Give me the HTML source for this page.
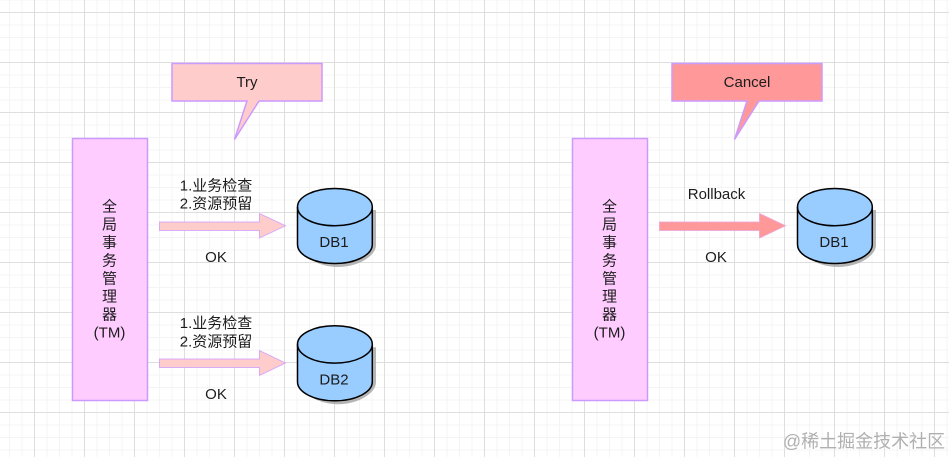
<!DOCTYPE html>
<html><head><meta charset="utf-8"><style>
html,body{margin:0;padding:0;background:#fff;width:949px;height:457px;overflow:hidden}
svg{display:block}
text{font-family:"Liberation Sans","Noto Sans CJK SC",sans-serif;font-size:15px;fill:#1c1c1c;text-anchor:middle;dominant-baseline:central;transform:translateY(1px)}
.n{font-size:15px}
.a{stroke-opacity:.75}
</style></head><body>
<svg width="949" height="457" viewBox="0 0 949 457" xmlns="http://www.w3.org/2000/svg">
<defs>
<pattern id="g" x="34" y="12" width="50" height="50" patternUnits="userSpaceOnUse">
<path d="M13 0V50M25.500 0V50M38 0V50M0 13H50M0 25.500H50M0 38H50" stroke="#f4f4f4" stroke-width="1" fill="none"/>
<path d="M.5 0V50M0 .5H50" stroke="#dedede" stroke-width="1" fill="none"/>
</pattern>
<g id="cyl">
<path d="M301 210V245C301 256 318 267 338 267C358 267 376 256 376 245V210Z" fill="#a8a8a8" opacity=".85"/>
</g>
</defs>
<rect width="949" height="457" fill="#fff"/>
<rect width="949" height="457" fill="url(#g)"/>

<!-- Left -->
<rect x="72.500" y="138.500" width="75" height="262" fill="#ffccff" stroke="#cc99ff" stroke-width="1.500"/>
<path d="M172 63.500H322V101H259L234.500 139.500L247 101H172Z" fill="#ffcccc" stroke="#cc99ff" stroke-width="1.500"/>
<text x="247" y="81.500" class="n">Try</text>
<text x="109.500" y="206">全</text><text x="109.500" y="224">局</text><text x="109.500" y="242">事</text><text x="109.500" y="260">务</text><text x="109.500" y="278">管</text><text x="109.500" y="296">理</text><text x="109.500" y="314">器</text><text x="109.500" y="332" class="n">(TM)</text>

<path class="a" d="M159.500 222H259.500V213.500L285.500 225.800L259.500 238V230.500H159.500Z" fill="#ffcccc" stroke="#cc99ff" stroke-width="1"/>
<text x="216" y="185">1.业务检查</text><text x="216" y="203">2.资源预留</text><text x="216" y="256.700" class="n">OK</text>

<use href="#cyl"/>
<path d="M297.500 207V244.500C297.500 255 314 263.500 334.800 263.500C355.500 263.500 372.300 255 372.300 244.500V207C372.300 196.700 355.500 188.500 334.800 188.500C314 188.500 297.500 196.700 297.500 207Z" fill="#99ccff" stroke="#000" stroke-width="1.500"/>
<path d="M297.500 207C297.500 217.500 314 225.800 334.800 225.800C355.500 225.800 372.300 217.500 372.300 207" fill="none" stroke="#000" stroke-width="1.500"/>
<text x="334" y="241.700" class="n">DB1</text>

<path class="a" d="M159.500 359H259.500V350.500L285.500 363L259.500 375.500V367.500H159.500Z" fill="#ffcccc" stroke="#cc99ff" stroke-width="1"/>
<text x="216" y="322.700">1.业务检查</text><text x="216" y="341">2.资源预留</text><text x="216" y="393.300" class="n">OK</text>

<use href="#cyl" y="137.300"/>
<path d="M297.500 344.300V381.800C297.500 392.300 314 400.800 334.800 400.800C355.500 400.800 372.300 392.300 372.300 381.800V344.300C372.300 334 355.500 325.800 334.800 325.800C314 325.800 297.500 334 297.500 344.300Z" fill="#99ccff" stroke="#000" stroke-width="1.500"/>
<path d="M297.500 344.300C297.500 354.800 314 363.100 334.800 363.100C355.500 363.100 372.300 354.800 372.300 344.300" fill="none" stroke="#000" stroke-width="1.500"/>
<text x="334" y="379" class="n">DB2</text>

<!-- Right -->
<rect x="572.500" y="138.500" width="75" height="262" fill="#ffccff" stroke="#cc99ff" stroke-width="1.500"/>
<path d="M672 63.500H822V101H759L734.500 139.500L747 101H672Z" fill="#ff9999" stroke="#cc99ff" stroke-width="1.500"/>
<text x="747" y="81.700" class="n">Cancel</text>
<text x="609.500" y="206">全</text><text x="609.500" y="224">局</text><text x="609.500" y="242">事</text><text x="609.500" y="260">务</text><text x="609.500" y="278">管</text><text x="609.500" y="296">理</text><text x="609.500" y="314">器</text><text x="609.500" y="332" class="n">(TM)</text>

<path class="a" d="M659.500 222H759.500V213.500L785.500 225.800L759.500 238V230.500H659.500Z" fill="#ff9999" stroke="#e9a0d9" stroke-width="1"/>
<text x="716.500" y="193.300" class="n">Rollback</text><text x="716" y="256.700" class="n">OK</text>

<use href="#cyl" x="500"/>
<path d="M797.500 207V244.500C797.500 255 814 263.500 834.800 263.500C855.500 263.500 872.300 255 872.300 244.500V207C872.300 196.700 855.500 188.500 834.800 188.500C814 188.500 797.500 196.700 797.500 207Z" fill="#99ccff" stroke="#000" stroke-width="1.500"/>
<path d="M797.500 207C797.500 217.500 814 225.800 834.800 225.800C855.500 225.800 872.300 217.500 872.300 207" fill="none" stroke="#000" stroke-width="1.500"/>
<text x="834" y="241.700" class="n">DB1</text>

<text x="864" y="440.500" style="font-size:18px;fill:#b0b0b0">@稀土掘金技术社区</text>
</svg>
</body></html>
